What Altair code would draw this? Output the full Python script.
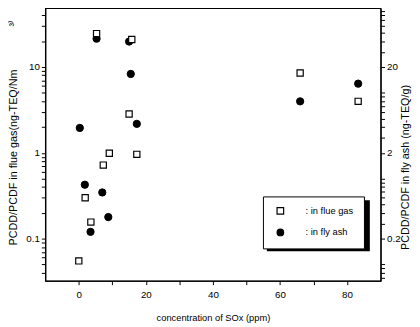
import altair as alt
import pandas as pd

# Flue gas (ng-TEQ/Nm3) vs SOx (ppm)
gas_x = [0.0, 1.9, 3.6, 7.3, 9.1, 5.3, 15.0, 15.8, 17.3, 66.0, 83.3]
gas_y = [0.055, 0.30, 0.156, 0.72, 0.99, 24.5, 2.83, 20.9, 0.96, 8.5, 3.98]

# Fly ash (ng-TEQ/g) vs SOx (ppm)
ash_x = [0.3, 1.8, 3.5, 7.0, 8.8, 5.3, 15.0, 15.5, 17.3, 66.0, 83.3]
ash_y = [3.9, 0.85, 0.24, 0.69, 0.357, 42.8, 39.6, 16.6, 4.35, 7.96, 12.8]

series_names = ["in flue gas", "in fly ash"]

gas = pd.DataFrame({"x": gas_x, "y": gas_y, "series": series_names[0]})
ash = pd.DataFrame({"x": ash_x, "y": ash_y, "series": series_names[1]})

FONT = "Liberation Sans"

left_ticks = [0.04, 0.05, 0.06, 0.07, 0.08, 0.09,
              0.1, 0.2, 0.3, 0.4, 0.5, 0.6, 0.7, 0.8, 0.9,
              1, 2, 3, 4, 5, 6, 7, 8, 9,
              10, 20, 30, 40]
right_ticks = [0.07, 0.08, 0.09,
               0.1, 0.2, 0.3, 0.4, 0.5, 0.6, 0.7, 0.8, 0.9,
               1, 2, 3, 4, 5, 6, 7, 8, 9,
               10, 20, 30, 40, 50, 60, 70, 80, 90]
x_ticks = [0, 10, 20, 30, 40, 50, 60, 70, 80]

xenc = alt.X("x:Q", scale=alt.Scale(domain=[-10, 90], nice=False, zero=False),
             axis=alt.Axis(values=x_ticks, labelExpr="datum.value % 20 == 0 ? datum.label : ''",
                           labelPadding=5, title="concentration of SOx (ppm)", titlePadding=14,
                           titleFontSize=9.5))

LEG = dict(title=None, orient="none", legendX=222, legendY=192,
           labelExpr="': ' + datum.label + '\u2002\u2002'")
shape = alt.Shape("series:N", scale=alt.Scale(domain=series_names, range=["square", "circle"]),
                  legend=alt.Legend(**LEG))
fill = alt.Fill("series:N", scale=alt.Scale(domain=series_names, range=["white", "black"]),
                legend=alt.Legend(**LEG))
stroke = alt.Stroke("series:N", scale=alt.Scale(domain=series_names, range=["black", "black"]),
                    legend=alt.Legend(**LEG))

ash_layer = alt.Chart(ash).mark_point(filled=True, strokeWidth=1, size=55, opacity=1).encode(
    x=xenc,
    y=alt.Y("y:Q", scale=alt.Scale(type="log", domain=[0.0646, 97], nice=False),
            axis=alt.Axis(orient="right", values=right_ticks,
                          labelExpr="datum.value == 0.2 ? '0.2' : datum.value == 2 ? '2' : datum.value == 20 ? '20' : ''",
                          title="PCDD/PCDF in fly ash (ng-TEQ/g)", titleAngle=270, titlePadding=11,
                          titleY=162)),
    shape=shape, fill=fill, stroke=stroke,
)

gas_layer = alt.Chart(gas).mark_point(filled=True, strokeWidth=1.2, size=40, opacity=1).encode(
    x=xenc,
    y=alt.Y("y:Q", scale=alt.Scale(type="log", domain=[0.0323, 48.5], nice=False),
            axis=alt.Axis(orient="left", values=left_ticks,
                          labelExpr="datum.value == 0.1 ? '0.1' : datum.value == 1 ? '1' : datum.value == 10 ? '10' : ''",
                          title="PCDD/PCDF in flue gas(ng-TEQ/Nm\u2003\u2003\u2003\u2003³⁾",
                          titlePadding=7, titleY=127)),
    shape=shape, fill=fill, stroke=stroke,
)

shadow = alt.Chart(pd.DataFrame({"a": [0]})).mark_rect(color="black").encode(
    x=alt.value(226), x2=alt.value(331), y=alt.value(196), y2=alt.value(248)
)

chart = alt.layer(shadow, ash_layer, gas_layer).resolve_scale(y="independent").properties(
    width=342, height=278,
    autosize=alt.AutoSizeParams(type="none"),
    padding={"left": 38, "top": -3, "right": 32, "bottom": 44},
).configure_view(stroke="black", strokeWidth=1.2).configure_axis(
    grid=False, domainColor="black", domainWidth=1.2, tickColor="black", tickSize=4,
    labelFont=FONT, labelFontSize=10, labelColor="black", labelPadding=2,
    titleFont=FONT, titleFontSize=11, titleFontWeight="normal", titleColor="black",
).configure_legend(
    strokeColor="black", fillColor="white", padding=10, labelFont=FONT, labelFontSize=9.5,
    labelColor="black", labelOffset=21, rowPadding=9, symbolOffset=3,
    symbolStrokeWidth=1.2, symbolSize=45,
)

chart.save("out.html", embed_options={"renderer": "svg", "actions": False})
